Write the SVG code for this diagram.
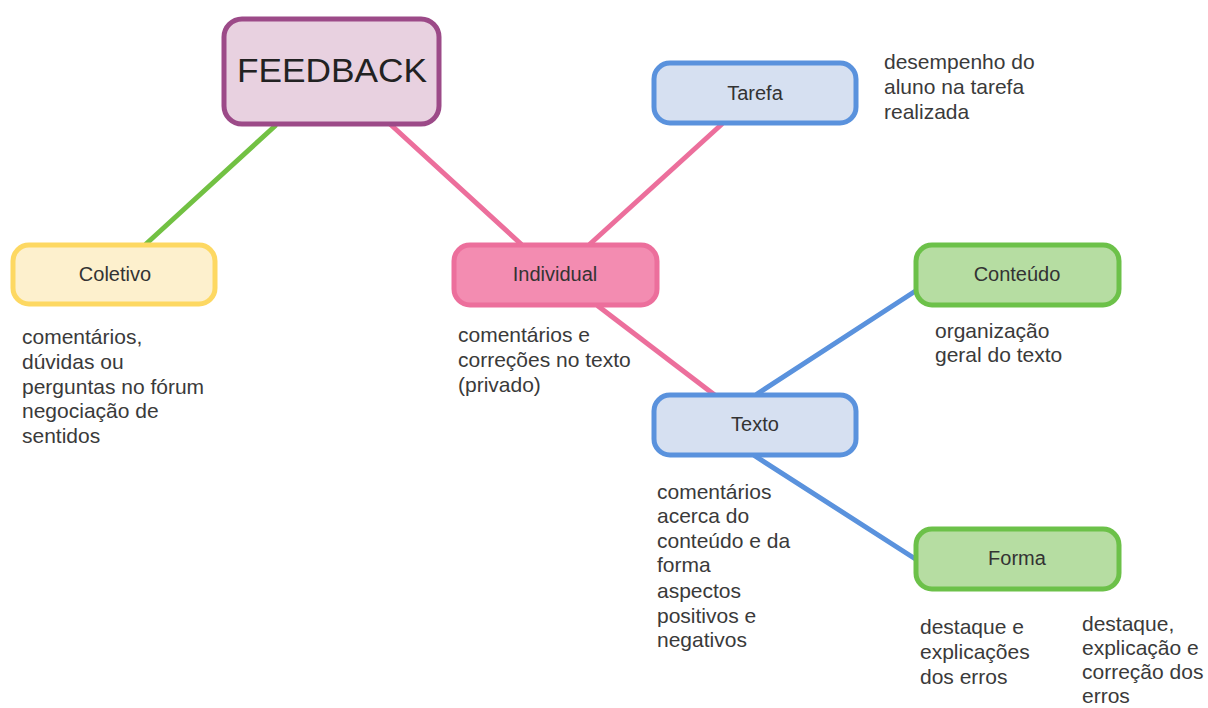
<svg xmlns="http://www.w3.org/2000/svg" width="1208" height="708" viewBox="0 0 1208 708">
<style>
.node{stroke-width:5}
.lbl{font-family:"Liberation Sans",Arial,sans-serif;font-size:20px;fill:#333;text-anchor:middle}
.note{font-family:"Liberation Sans",Arial,sans-serif;font-size:21px;fill:#3a3a3a}
.c{fill:none;stroke-width:5;stroke-linecap:round}
</style>
<rect width="1208" height="708" fill="#fff"/>
<g id="connectors">
<line class="c" x1="275" y1="126" x2="146" y2="244" stroke="#72c143"/>
<line class="c" x1="390" y1="124" x2="521" y2="244" stroke="#ec6f9c"/>
<line class="c" x1="590" y1="244" x2="722" y2="124" stroke="#ec6f9c"/>
<line class="c" x1="598" y1="306" x2="716" y2="396" stroke="#ec6f9c"/>
<line class="c" x1="757" y1="394" x2="917" y2="290" stroke="#5a92dd"/>
<line class="c" x1="755" y1="456" x2="917" y2="560" stroke="#5a92dd"/>
</g>
<g id="feedback">
<rect class="node" x="224" y="19" width="215" height="105" rx="18" fill="#e8d1e0" stroke="#9c4a88"/>
<text x="332" y="82" font-family="Liberation Sans,Arial,sans-serif" font-size="34" fill="#222" text-anchor="middle" textLength="190" lengthAdjust="spacingAndGlyphs">FEEDBACK</text>
</g>
<g id="coletivo">
<rect class="node" x="13" y="245" width="202" height="59" rx="16" fill="#fdf0cd" stroke="#fdd862"/>
<text class="lbl" x="115" y="281">Coletivo</text>
<text class="note"><tspan x="22" y="344">comentários,</tspan><tspan x="22" y="369">dúvidas ou</tspan><tspan x="22" y="394">perguntas no fórum</tspan><tspan x="22" y="418">negociação de</tspan><tspan x="22" y="443">sentidos</tspan></text>
</g>
<g id="individual">
<rect class="node" x="454" y="245" width="203" height="60" rx="16" fill="#f38cb1" stroke="#ec6f9c"/>
<text class="lbl" x="555" y="281">Individual</text>
<text class="note"><tspan x="458" y="342">comentários e</tspan><tspan x="458" y="367">correções no texto</tspan><tspan x="458" y="392">(privado)</tspan></text>
</g>
<g id="tarefa">
<rect class="node" x="654" y="63" width="202" height="60" rx="16" fill="#d6e0f1" stroke="#5a92dd"/>
<text class="lbl" x="755" y="100">Tarefa</text>
<text class="note"><tspan x="884" y="69">desempenho do</tspan><tspan x="884" y="94">aluno na tarefa</tspan><tspan x="884" y="119">realizada</tspan></text>
</g>
<g id="conteudo">
<rect class="node" x="916" y="245" width="203" height="60" rx="16" fill="#b6dda2" stroke="#6cc149"/>
<text class="lbl" x="1017" y="281">Conteúdo</text>
<text class="note"><tspan x="935" y="338">organização</tspan><tspan x="935" y="362">geral do texto</tspan></text>
</g>
<g id="texto">
<rect class="node" x="654" y="395" width="202" height="60" rx="16" fill="#d6e0f1" stroke="#5a92dd"/>
<text class="lbl" x="755" y="431">Texto</text>
<text class="note"><tspan x="657" y="499">comentários</tspan><tspan x="657" y="523">acerca do</tspan><tspan x="657" y="548">conteúdo e da</tspan><tspan x="657" y="572">forma</tspan><tspan x="657" y="598">aspectos</tspan><tspan x="657" y="623">positivos e</tspan><tspan x="657" y="647">negativos</tspan></text>
</g>
<g id="forma">
<rect class="node" x="916" y="529" width="203" height="60" rx="16" fill="#b6dda2" stroke="#6cc149"/>
<text class="lbl" x="1017" y="565">Forma</text>
<text class="note"><tspan x="920" y="634">destaque e</tspan><tspan x="920" y="659">explicações</tspan><tspan x="920" y="684">dos erros</tspan></text>
<text class="note"><tspan x="1082" y="631">destaque,</tspan><tspan x="1082" y="655">explicação e</tspan><tspan x="1082" y="679">correção dos</tspan><tspan x="1082" y="703">erros</tspan></text>
</g>
</svg>
